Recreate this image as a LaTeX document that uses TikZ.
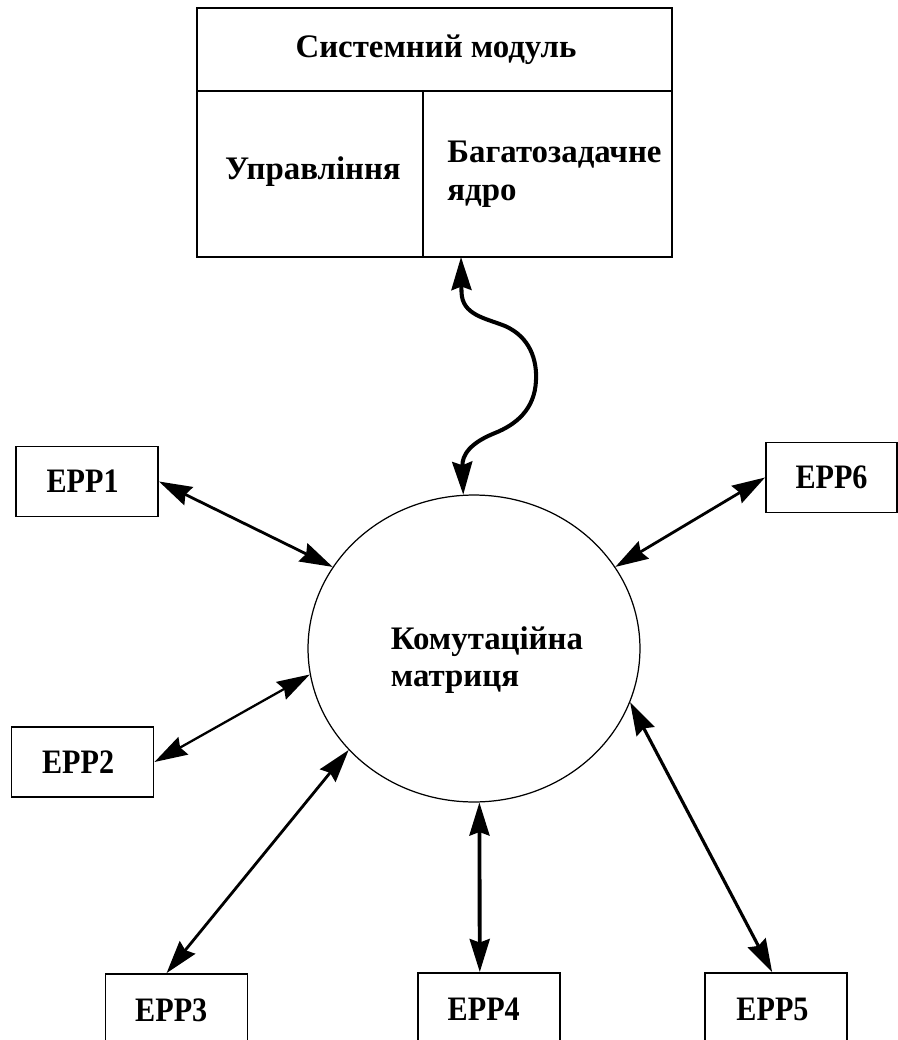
\documentclass[tikz,border=0pt]{standalone}
\usepackage{fontspec}
\setmainfont{Liberation Serif}
\newfontfamily\eppfont{Liberation Serif}[FakeStretch=0.88]
\usetikzlibrary{arrows.meta,shapes.geometric,calc}
\begin{document}
\begin{tikzpicture}[x=0.02cm,y=-0.02cm,
  every node/.style={font=\fontsize{18.7pt}{21.5pt}\selectfont\bfseries, inner sep=0pt},
  frame/.style={draw, line width=1.1pt},
  eppbox/.style={draw, line width=1.1pt, minimum width=2.84cm, minimum height=1.4cm,
    font=\eppfont\fontsize{19.5pt}{22pt}\selectfont\bfseries},
  head/.tip={Stealth[length=0.66cm,width=0.4cm,inset=0.07cm]},
  link/.style={line width=1.6pt, head-head},
  ]
\useasboundingbox (0,0) rectangle (898,1040);
\begin{scope}
\clip (0,0) rectangle (898,1040);

% system module: frame with title row and two cells
\node[frame, minimum width=9.5cm, minimum height=4.98cm] (sys) at (434.5,132.5) {};
\coordinate (hd) at (0,91);
\coordinate (vd) at (423,0);
\draw[line width=1.7pt] (sys.west |- hd) -- (sys.east |- hd);
\draw[line width=1.1pt] (vd |- hd) -- (vd |- sys.south);
\node (title) at (436,50) {Системний модуль};
\node (ctrl) at (313,172) {Управління};
\node[align=left, anchor=north west] (core) at (447,141) {Багатозадачне\\ядро};

% switching matrix
\node[ellipse, draw, line width=0.7pt, minimum width=6.64cm, minimum height=6.14cm] (m) at (474,648.5) {};
\node[align=left] (mtext) at (487,660) {Комутаційна\\матриця};

% peripheral boxes
\node[eppbox] (e1) at (87,481.5) {ЕРР1\kern5pt};
\node[eppbox, minimum width=2.62cm] (e6) at (831.5,477.5) {ЕРР6};
\node[eppbox] (e2) at (82.5,762) {ЕРР2\kern5pt};
\node[eppbox, minimum height=1.44cm] (e3) at (176.5,1010) {ЕРР3\kern6pt};
\node[eppbox, minimum height=1.44cm] (e4) at (489,1009) {ЕРР4\kern6pt};
\node[eppbox, minimum height=1.44cm] (e5) at (776,1009) {ЕРР5\kern4pt};

% wavy link between kernel and matrix
\coordinate (wt) at (461,257);
\draw[link, line width=2.3pt] (wt) -- (461.5,292)
  .. controls (462,315) and (485,318) .. (505,326)
  .. controls (530,337) and (537,360) .. (536,380)
  .. controls (535,410) and (515,425) .. (495,433)
  .. controls (470,443) and (462,455) .. (m.94);

% links to peripherals
\draw[link] (e1.east) -- (m.150.5);
\draw[link] (e6.west) -- (m.30.7);
\draw[link, line width=1.3pt] (e2.east) -- (m.189.9);
\draw[link] (e3.105) -- (m.219.6);
\draw[link, line width=2.2pt] (e4.104) -- (m.272);
\draw[link, line width=1.8pt] (e5.96.5) -- (m.-19.8);
\end{scope}
\end{tikzpicture}
\end{document}
